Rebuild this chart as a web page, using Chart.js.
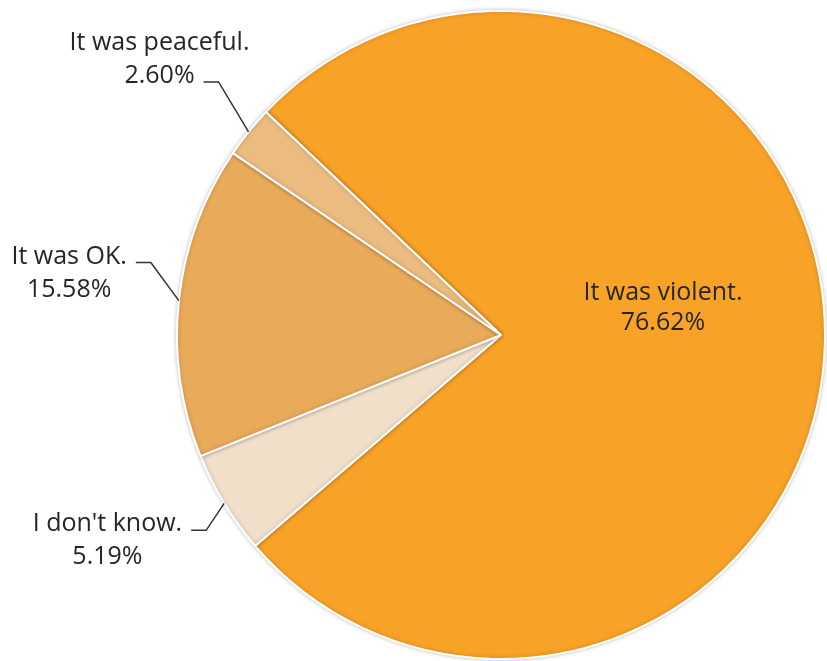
<!DOCTYPE html>
<html>
<head>
<meta charset="utf-8">
<script src="https://cdn.jsdelivr.net/npm/chart.js@4/dist/chart.umd.min.js"></script>
<style>
    html, body { margin: 0; padding: 0; background: #fff; }
    #wrap { width: 827px; height: 661px; }
</style>
</head>
<body>
<div id="wrap"><canvas id="pie" width="827" height="661"></canvas></div>
<script>
'use strict';

const answers = ['It was violent.', "I don't know.", 'It was OK.', 'It was peaceful.'];
const shares = [76.62, 5.19, 15.58, 2.60];
const sliceColors = ['#F8A227', '#F1DFCA', '#E9AA5A', '#EBBB7F'];

const labelFont = '25px "Open Sans", "Liberation Sans", sans-serif';
const lineHeight = 33;

// how each answer gets labelled: inside the slice, or outside with a leader line
// bend = offset of the leader's bend from the slice edge, row = text row on the tick
const labelStyle = [
    { inside: true, dy: -33 },
    { bend: [-18, 27], row: 0 },
    { bend: [-28, -38], row: 0 },
    { bend: [-30, -50], row: 1 }
];

function labelLines(i) {
    return [answers[i], shares[i].toFixed(2) + '%'];
}

const pieLabels = {
    id: 'pieLabels',
    beforeDatasetsDraw(chart) {
        const ctx = chart.ctx;
        ctx.save();
        ctx.shadowColor = 'rgba(0,0,0,0.22)';
        ctx.shadowBlur = 4;
    },
    afterDatasetsDraw(chart) {
        chart.ctx.restore();
    },
    afterDraw(chart) {
        const ctx = chart.ctx;
        const arcs = chart.getDatasetMeta(0).data;
        ctx.save();
        ctx.font = labelFont;
        ctx.fillStyle = '#262626';
        ctx.strokeStyle = '#333';
        ctx.lineWidth = 1.5;
        ctx.textAlign = 'center';
        ctx.textBaseline = 'alphabetic';

        arcs.forEach((arc, i) => {
            const p = arc.getProps(['x', 'y', 'startAngle', 'endAngle', 'outerRadius'], true);
            const mid = (p.startAngle + p.endAngle) / 2;
            const lines = labelLines(i);
            const st = labelStyle[i];

            if (st.inside) {
                const r = p.outerRadius * 0.5;
                const cx = p.x + Math.cos(mid) * r;
                const cy = p.y + Math.sin(mid) * r + st.dy;
                lines.forEach((t, k) => {
                    ctx.fillText(t, cx, cy + (k - 0.5) * 30 + 9);
                });
                return;
            }

            const sx = p.x + Math.cos(mid) * p.outerRadius;
            const sy = p.y + Math.sin(mid) * p.outerRadius;
            const ex = sx + st.bend[0];
            const ey = sy + st.bend[1];
            const hx = ex - 15;

            ctx.beginPath();
            ctx.moveTo(sx, sy);
            ctx.lineTo(ex, ey);
            ctx.lineTo(hx, ey);
            ctx.stroke();

            const w = ctx.measureText(lines[st.row]).width;
            const cx = hx - 9 - w / 2;
            const baseY = ey + 1 - st.row * lineHeight;
            lines.forEach((t, k) => {
                ctx.fillText(t, cx, baseY + k * lineHeight);
            });
        });
        ctx.restore();
    }
};

new Chart(document.getElementById('pie'), {
    type: 'pie',
    data: {
        labels: answers,
        datasets: [{
            data: shares,
            backgroundColor: sliceColors,
            borderColor: '#ffffff',
            borderWidth: 2
        }]
    },
    options: {
        responsive: false,
        animation: false,
        rotation: -46.5,
        layout: { padding: { left: 175, right: 0, top: 10, bottom: 1 } },
        plugins: {
            legend: { display: false },
            tooltip: { enabled: false }
        }
    },
    plugins: [pieLabels]
});
</script>
</body>
</html>
